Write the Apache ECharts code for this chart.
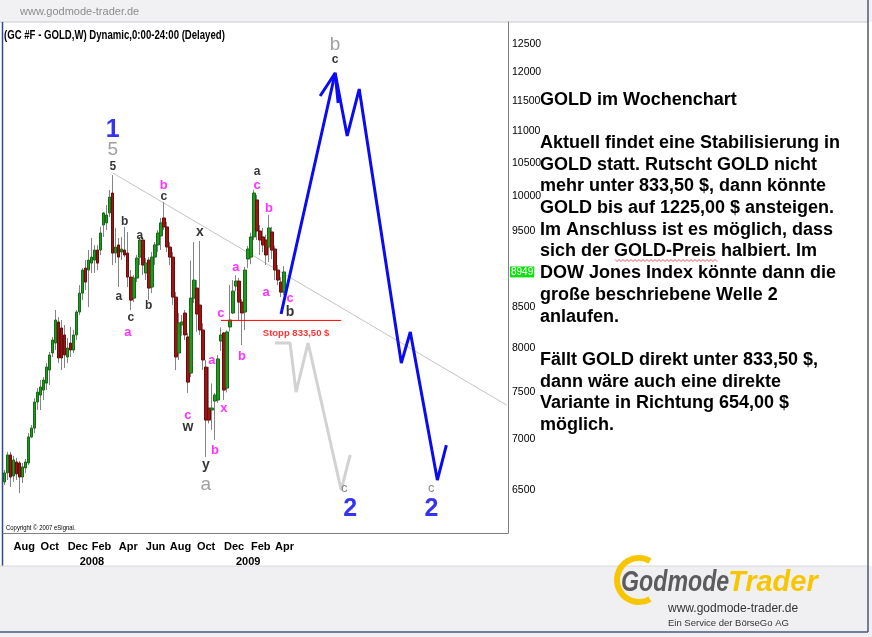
<!DOCTYPE html>
<html><head><meta charset="utf-8">
<script src="https://cdn.jsdelivr.net/npm/echarts@6/dist/echarts.min.js"></script>
<style>html,body{margin:0;padding:0;background:#fff}#c{width:872px;height:637px}</style>
</head><body><div id="c"></div>
<script>
// ---- weekly bars (week ending Friday), first bar = week ending 2007-07-13
const firstWeekEnd = '2007-07-13';
const weekCount = 168; // axis span incl. projection space

const opens  = [6577,6665,6843,6635,6773,6763,6625,6714,6763,7026,7118,7395,7471,7526,7603,7750,7946,8063,8316,8243,8159,7900,8063,7981,8159,8438,8675,9000,8974,9066,9106,9241,9241,9587,9616,9757,10047,9200,9310,9214,9241,9200,8882,8612,8869,9146,9378,8935,9106,8753,9146,9310,9434,9686,9559,9282,9146,8625,7946,8280,8426,8135,7716,8612,8740,8525,8219,7784,7330,7309,7406,7417,8087,8183,7548,8255,8426,8766,8830,8562,8438,9120,9146,9420,9945,9503,9420,9378,9282,9489,9255,8974,8817,8688];
const closes = [6665,6843,6625,6793,6655,6625,6724,6773,7026,7118,7395,7504,7559,7637,7784,7923,8099,8340,7888,7888,7923,8005,7981,8159,8438,8675,8974,8817,9106,9146,9241,9066,9475,9757,9729,9988,9200,9282,9146,9255,9174,8882,8587,8869,9133,9378,9040,9066,8740,9146,9310,9475,9616,9559,9282,9146,8625,7900,8304,8316,8159,7614,8612,8843,8414,8219,7865,7202,7202,7330,7471,7877,8159,7526,8195,8340,8701,8830,8562,8426,8974,9255,9420,10047,9503,9378,9310,9174,9545,9241,8974,8843,8688,8949];
const lows   = [6548,6596,6529,6577,6596,6471,6567,6665,6743,7016,7066,7309,7309,7417,7526,7582,7900,7981,7830,7750,7773,7830,7900,7946,8099,8401,8587,8714,8500,8935,8935,8974,9174,9420,9517,9700,9040,9066,8753,9106,9146,8753,8463,8562,8817,9040,8908,8843,8587,8675,9040,9214,9241,9517,9214,9040,8525,7750,7865,8150,8099,7493,7671,8550,8200,8160,7750,6823,7166,7100,6995,7385,7970,7417,7500,8200,8414,8700,8340,8040,8219,9000,9050,9378,9378,9174,9214,9040,9080,9120,8843,8778,8625,8650];
const highs  = [6694,6873,6873,6833,6813,6783,6763,6803,7066,7150,7439,7548,7637,7671,7830,7958,8135,8463,8377,8340,8280,8123,8255,8219,8463,8778,9000,9106,9241,9406,9308,9308,9560,9771,9872,10091,10315,9545,9406,9420,9560,9489,8974,8908,9174,9420,9420,9133,9146,9214,9350,9517,9686,9916,9630,9350,9214,8690,8426,8400,8463,8183,9100,9350,8843,9364,8300,7865,7784,7600,7493,7923,8250,8195,8215,8780,8843,8908,8870,8600,9014,9296,9480,10091,10018,9587,9545,9450,9729,9560,9300,9040,8880,9027];

// ---- axis ticks
const yTicks = [6500,7000,7500,8000,8500,9500,10000,10500,11000,11500,12000,12500];
const monthAbbr = ['Jan','Feb','Mar','Apr','May','Jun','Jul','Aug','Sep','Oct','Nov','Dec'];

// ---- drawn lines: [week index, price]
const trendLine   = [[36,10347],[167,7363]];
const stopLine    = [[72,8335],[112,8335]];
const bluePath    = [[92,8414],[110,11980],[114,10923],[118,11701],[132,7830],[135,8195],[144,6596],[147,6943]];
const blueArrow   = [[105,11583],[110,11980],[111,11464]];
const greyPath    = [[90,8064],[95,8064],[97,7504],[101,8064],[112,6500],[115,6843]];

// ---- wave annotations: [week index, price, text]
const blackLabels = [[36,10437,'5'],[40,9629,'b'],[38,8625,'a'],[42,8365,'c'],[45,9432,'a'],[48,8512,'b'],[53,9988,'c'],[84,10361,'a'],[110,12210,'c']];
const blackBigLabels = [[65,9489,'x'],[61,7129,'w'],[67,6742,'y'],[95,8438,'b']];
const magentaLabels = [[41,8195,'a'],[53,10165,'b'],[61,7255,'c'],[69,7865,'a'],[70,6893,'b'],[73,7330,'x'],[72,8426,'c'],[77,9014,'a'],[79,7910,'b'],[84,10165,'c'],[88,9828,'b'],[87,8689,'a'],[95,8614,'c']];
const greyBigLabels = [[36,10701,'5'],[67,6548,'a'],[110,12482,'b']];
const greySmallLabels = [[113,6519,'c'],[142,6519,'c']];
const blueLabels = [[36,11019,'1'],[115,6321,'2'],[142,6321,'2']];
const stopLabel = [[97,8183,'Stopp 833,50 $']];

const commentLines = ['GOLD im Wochenchart','','Aktuell findet eine Stabilisierung in','GOLD statt. Rutscht GOLD nicht','mehr unter 833,50 $, dann könnte','GOLD bis auf 1225,00 $ ansteigen.','Im Anschluss ist es möglich, dass','sich der GOLD-Preis halbiert. Im','DOW Jones Index könnte dann die','große beschriebene Welle 2','anlaufen.','','Fällt GOLD direkt unter 833,50 $,','dann wäre auch eine direkte','Variante in Richtung 654,00 $','möglich.'];

// ---- build
const weeks = [];
const t0 = Date.parse(firstWeekEnd + 'T00:00:00Z');
for (let i = 0; i < weekCount; i++) weeks.push(new Date(t0 + i * 7 * 864e5).toISOString().slice(0, 10));

function labelKind(i) {
  if (i >= opens.length) return null;
  const d = weeks[i];
  const m = +d.slice(5, 7) - 1, day = +d.slice(8, 10);
  if (day > 7) return null;
  if (m === 0) return 'year';
  if (m % 2 === 1) return 'month';
  return null;
}

const wickData = lows.map((l, i) => [l, highs[i], l, highs[i]]);
const bodyData = opens.map((o, i) => [o, closes[i], Math.min(o, closes[i]), Math.max(o, closes[i])]);
const lastClose = closes[closes.length - 1];

const SANS = '"Liberation Sans", Arial, sans-serif';

function labelSeries(arr, color, size, weight) {
  return {
    type: 'scatter', silent: true, z: 20, symbolSize: 1,
    itemStyle: { color: 'rgba(0,0,0,0)' },
    data: arr.map(a => ({ name: a[2], value: [a[0], a[1]] })),
    label: { show: true, position: 'inside', formatter: p => p.name, color, fontSize: size, fontWeight: weight, fontFamily: SANS }
  };
}
function lineSeries(data, color, width, z) {
  return { type: 'line', data, symbol: 'none', silent: true, z, animation: false,
    lineStyle: { color, width }, itemStyle: { color } };
}

// spell-check squiggle under "GOLD-Preis" (decoration)
const squiggle = [];
for (let x = 615, k = 0; x <= 717; x += 2, k++) squiggle.push([x, 260 + (k % 2 ? 1.5 : -0.5)]);

const chart = echarts.init(document.getElementById('c'), null, { renderer: 'canvas', width: 872, height: 637 });
chart.setOption({
  animation: false,
  backgroundColor: '#ffffff',
  grid: { left: 3, right: 364, top: 22, bottom: 104 },
  xAxis: {
    type: 'category', data: weeks, boundaryGap: true,
    axisLine: { show: true, lineStyle: { color: '#808080', width: 1 } },
    axisTick: { show: false }, splitLine: { show: false },
    axisLabel: {
      interval: (i) => labelKind(i) !== null,
      formatter: (v, i) => {
        const k = labelKind(i);
        if (k === 'year') return '\n' + v.slice(0, 4);
        if (k === 'month') return monthAbbr[+v.slice(5, 7) - 1];
        return '';
      },
      align: 'left', verticalAlign: 'top', margin: 6, lineHeight: 15,
      fontFamily: SANS, fontWeight: 'bold', fontSize: 11, color: '#000'
    }
  },
  yAxis: {
    type: 'log', logBase: 10, min: 6103, max: 12910, position: 'right',
    axisLine: { show: true, lineStyle: { color: '#808080', width: 1 } },
    axisTick: { show: false }, splitLine: { show: false },
    minorTick: { show: false }, minorSplitLine: { show: false },
    axisLabel: { customValues: yTicks, formatter: v => String(Math.round(v)), fontFamily: SANS, fontSize: 10.5, color: '#000', margin: 4 }
  },
  series: [
    lineSeries(trendLine, '#c4c4c4', 1, 1),
    {
      type: 'candlestick', name: 'wick', data: wickData, barWidth: 1, z: 2, silent: true,
      itemStyle: { color: '#858585', color0: '#858585', borderColor: '#858585', borderColor0: '#858585', borderWidth: 1 }
    },
    {
      type: 'candlestick', name: 'GOLD', data: bodyData, barWidth: 3, z: 3, silent: true,
      itemStyle: { color: '#1f9a1f', color0: '#9c1414', borderColor: '#146a14', borderColor0: '#6e0c0c', borderWidth: 1 },
      markLine: {
        silent: true, symbol: ['none', 'none'], animation: false,
        data: [{ yAxis: lastClose }], lineStyle: { color: 'rgba(0,0,0,0)', width: 1, type: 'solid' },
        label: { show: true, position: 'end', distance: 2, formatter: String(lastClose), color: '#ffffff', backgroundColor: '#10e010', fontFamily: SANS, fontSize: 10, padding: [1, 1, 0, 1] }
      }
    },
    lineSeries(stopLine, '#ff0000', 1, 5),
    lineSeries(greyPath, '#d2d2d2', 3, 6),
    lineSeries(bluePath, '#0a0af5', 3, 7),
    lineSeries(blueArrow, '#0a0af5', 3, 7),
    labelSeries(blackLabels, '#000000', 12, 'bold'),
    labelSeries(blackBigLabels, '#000000', 14, 'bold'),
    labelSeries(magentaLabels, '#ff00ff', 13, 'bold'),
    labelSeries(greyBigLabels, '#888888', 19, 'normal'),
    labelSeries(greySmallLabels, '#6e6e6e', 13, 'normal'),
    labelSeries(blueLabels, '#0000ee', 25, 'bold'),
    labelSeries(stopLabel, '#ff0000', 9.5, 'bold')
  ],
  graphic: [
    { type: 'rect', shape: { x: 0, y: 0, width: 872, height: 22 }, style: { fill: '#f1f1f4' }, z: -10 },
    { type: 'line', shape: { x1: 0, y1: 22, x2: 868, y2: 22 }, style: { stroke: '#c8c8d0', lineWidth: 1 } },
    { type: 'text', x: 20, y: 12, style: { text: 'www.godmode-trader.de', fill: '#8c8c8c', font: '11px "Liberation Sans"', textVerticalAlign: 'middle' } },
    { type: 'text', x: 4, y: 36, scaleX: 0.8, style: { text: '(GC #F - GOLD,W) Dynamic,0:00-24:00 (Delayed)', fill: '#000', font: 'bold 12px "Liberation Sans"', textVerticalAlign: 'middle' } },
    { type: 'text', x: 6, y: 528, scaleX: 0.85, style: { text: 'Copyright \u00a9 2007 eSignal.', fill: '#000', font: '7px "Liberation Sans"', textVerticalAlign: 'middle' } },
    { type: 'line', shape: { x1: 2.5, y1: 22, x2: 2.5, y2: 566 }, style: { stroke: '#2b4b8b', lineWidth: 1.5 } },
    { type: 'rect', shape: { x: 0, y: 566, width: 872, height: 71 }, style: { fill: '#f0f0f3' }, z: -10 },
    { type: 'line', shape: { x1: 0, y1: 566, x2: 868, y2: 566 }, style: { stroke: '#d8d8de', lineWidth: 1 } },
    { type: 'line', shape: { x1: 868, y1: 0, x2: 868, y2: 632 }, style: { stroke: '#4a5a7a', lineWidth: 1.5 } },
    { type: 'line', shape: { x1: 0, y1: 632, x2: 868, y2: 632 }, style: { stroke: '#4a5a7a', lineWidth: 1.5 } },
    { type: 'text', x: 540, y: 89, style: { text: commentLines.join('\n'), fill: '#000', font: 'bold 18px "Liberation Sans"', lineHeight: 21.67, textVerticalAlign: 'top' } },
    { type: 'polyline', shape: { points: squiggle }, style: { stroke: '#e03030', lineWidth: 0.8, fill: 'none' } },
    { type: 'arc', shape: { cx: 639, cy: 580, r: 22, startAngle: Math.PI / 3, endAngle: Math.PI * 5 / 3, clockwise: true }, style: { stroke: '#f7c600', lineWidth: 6, fill: 'none' } },
    { type: 'text', x: 621, y: 583, scaleX: 0.8, style: { text: 'Godmode', fill: '#5c5c5c', font: 'italic bold 29px "Liberation Sans"', textVerticalAlign: 'middle' } },
    { type: 'text', x: 728, y: 583, style: { text: 'Trader', fill: '#f7c600', font: 'italic bold 29px "Liberation Sans"', textVerticalAlign: 'middle' } },
    { type: 'text', x: 668, y: 609, style: { text: 'www.godmode-trader.de', fill: '#333', font: '12px "Liberation Sans"', textVerticalAlign: 'middle' } },
    { type: 'text', x: 668, y: 623, style: { text: 'Ein Service der BörseGo AG', fill: '#333', font: '9.5px "Liberation Sans"', textVerticalAlign: 'middle' } }
  ]
});
</script></body></html>
